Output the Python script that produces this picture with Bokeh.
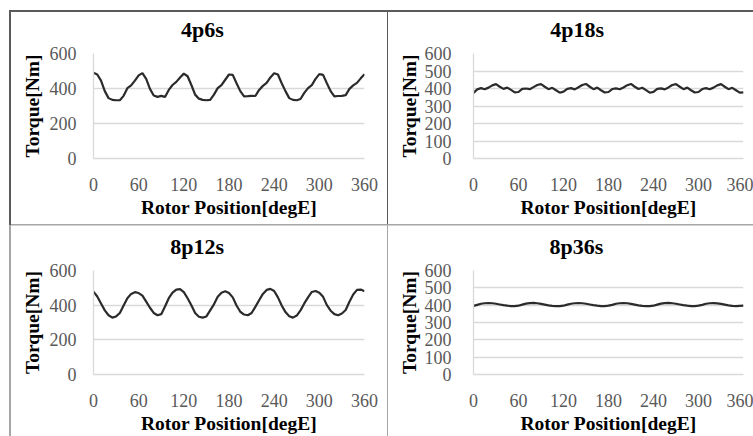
from bokeh.plotting import figure
from bokeh.layouts import gridplot
from bokeh.models import Range1d, FixedTicker
from bokeh.embed import file_html
from bokeh.resources import INLINE

# ---------------- data ----------------
angle = list(range(0, 361, 5))  # Rotor position [degE]

torque_4p6s = [
    490, 480, 445, 385, 345, 335, 333, 333, 358, 402, 418, 445,
    475, 488, 455, 398, 360, 352, 358, 352, 392, 420, 438, 463,
    485, 470, 420, 365, 342, 335, 333, 335, 365, 402, 419, 450,
    480, 478, 430, 385, 355, 356, 358, 357, 392, 415, 432, 463,
    487, 480, 430, 385, 345, 335, 333, 340, 375, 402, 419, 455,
    482, 478, 430, 385, 355, 357, 358, 362, 398, 418, 432, 458,
    482,
]

torque_4p18s = [
    375, 395, 402, 396, 405, 418, 425, 410, 398, 405, 392, 378,
    380, 398, 400, 396, 408, 420, 425, 410, 396, 404, 390, 376,
    382, 398, 402, 395, 407, 420, 426, 410, 396, 405, 390, 377,
    380, 397, 401, 396, 406, 419, 426, 410, 397, 404, 391, 376,
    381, 398, 401, 395, 406, 420, 425, 410, 396, 405, 390, 377,
    380, 397, 402, 396, 405, 418, 425, 410, 396, 404, 390, 376,
    378,
]

torque_8p12s = [
    478, 450, 410, 370, 342, 328, 335, 355, 398, 440, 465, 475,
    470, 455, 420, 385, 355, 342, 348, 392, 440, 472, 490, 492,
    475, 440, 400, 355, 333, 328, 335, 370, 405, 448, 472, 480,
    470, 445, 398, 362, 346, 342, 355, 390, 428, 465, 488, 494,
    482, 445, 398, 360, 336, 328, 340, 370, 410, 445, 476, 482,
    472, 448, 400, 368, 348, 342, 352, 372, 420, 462, 488, 490,
    480,
]

torque_8p36s = [
    396, 402, 408, 411, 412, 411, 408, 404, 400, 397, 395, 395,
    397, 403, 409, 412, 413, 411, 407, 403, 399, 396, 394, 395,
    397, 403, 408, 411, 412, 411, 408, 404, 400, 397, 395, 395,
    397, 402, 408, 411, 412, 411, 407, 403, 399, 396, 394, 395,
    397, 403, 409, 412, 413, 411, 408, 404, 400, 397, 395, 395,
    397, 402, 408, 411, 412, 410, 407, 403, 399, 396, 395, 396,
    397,
]

x_ticks = [0, 60, 120, 180, 240, 300, 360]
y_ticks_coarse = [0, 200, 400, 600]
y_ticks_fine = [0, 100, 200, 300, 400, 500, 600]

titles = ["4p6s", "4p18s", "8p12s", "8p36s"]
x_title = "Rotor Position[degE]"
y_title = "Torque[Nm]"

# ---------------- styling ----------------
FONT = "Liberation Serif"
TICK_COLOR = "#595959"
GRID_COLOR = "#d9d9d9"
LINE_COLOR = "#2b2b2b"
DARK_BORDER = "#5a5a5a"
LIGHT_BORDER = "#a6a6a6"

FRAME_H = 105


def cell_lines(specs):
    """specs: list of (color, pos_x, pos_y, size_w, size_h) as CSS strings."""
    return {
        "background-image": ", ".join(f"linear-gradient({c}, {c})" for c, *_ in specs),
        "background-repeat": "no-repeat",
        "background-position": ", ".join(f"{x} {y}" for _, x, y, _w, _h in specs),
        "background-size": ", ".join(f"{w} {h}" for *_, w, h in specs),
    }


def make_panel(title, ys, yticks, width, height, b_left, b_top, b_right,
               ytick_standoff, ylabel_standoff, title_offset, borders):
    b_bottom = height - b_top - FRAME_H
    p = figure(width=width, height=height, output_backend="svg",
               toolbar_location=None, tools="",
               x_range=Range1d(0, 360), y_range=Range1d(0, 600),
               min_border_left=b_left, min_border_right=b_right,
               min_border_top=b_top, min_border_bottom=b_bottom,
               styles=cell_lines(borders))
    p.outline_line_color = None
    p.background_fill_color = "white"
    p.border_fill_color = None

    p.line(angle, ys, line_color=LINE_COLOR, line_width=2.2)

    p.xgrid.grid_line_color = None
    p.ygrid.grid_line_color = GRID_COLOR
    p.ygrid.grid_line_width = 1.3

    p.xaxis.ticker = FixedTicker(ticks=x_ticks)
    p.yaxis.ticker = FixedTicker(ticks=yticks)
    for ax in (p.xaxis[0], p.yaxis[0]):
        ax.major_tick_line_color = None
        ax.minor_tick_line_color = None
        ax.axis_line_color = GRID_COLOR
        ax.axis_line_width = 1.3
        ax.major_label_text_font = FONT
        ax.major_label_text_font_size = "18px"
        ax.major_label_text_color = TICK_COLOR
        ax.axis_label_text_font = FONT
        ax.axis_label_text_font_style = "bold"
        ax.axis_label_text_font_size = "19.5px"
        ax.axis_label_text_color = "black"
    p.xaxis.axis_label = x_title
    p.yaxis.axis_label = y_title
    p.xaxis.major_label_standoff = 13
    p.xaxis.axis_label_standoff = 3
    p.yaxis.major_label_standoff = ytick_standoff
    p.yaxis.axis_label_standoff = ylabel_standoff

    p.title.text = title
    p.title.align = "left"
    p.title.offset = title_offset
    p.title.standoff = 23
    p.title.text_font = FONT
    p.title.text_font_style = "bold"
    p.title.text_font_size = "22px"
    p.title.text_color = "black"
    return p


W1, W2 = 388, 365
H1, H2 = 220, 216

tl_borders = [
    (DARK_BORDER, "9px", "10px", "2px", "calc(100% - 10px)"),
    (DARK_BORDER, "9px", "10px", "calc(100% - 9px)", "2px"),
    (DARK_BORDER, "100%", "10px", "1.5px", "calc(100% - 10px)"),
]
tr_borders = [
    (DARK_BORDER, "0px", "10px", "100%", "2px"),
]
bl_borders = [
    (DARK_BORDER, "9px", "0px", "2px", "5px"),
    (LIGHT_BORDER, "9px", "5px", "2px", "calc(100% - 5px)"),
    (LIGHT_BORDER, "9px", "4px", "calc(100% - 9px)", "1.5px"),
    (DARK_BORDER, "100%", "0px", "1.5px", "5px"),
    (LIGHT_BORDER, "100%", "5px", "1.5px", "calc(100% - 5px)"),
]
br_borders = [
    (LIGHT_BORDER, "0px", "4px", "100%", "1.5px"),
]

p1 = make_panel(titles[0], torque_4p6s, y_ticks_coarse, W1, H1, 93, 53, 24, 11, 4, 87.5, tl_borders)
p2 = make_panel(titles[1], torque_4p18s, y_ticks_fine, W2, H1, 85, 53, 10, 16, 2, 76.8, tr_borders)
p3 = make_panel(titles[2], torque_8p12s, y_ticks_coarse, W1, H2, 93, 49, 24, 11, 4, 76.7, bl_borders)
p4 = make_panel(titles[3], torque_8p36s, y_ticks_fine, W2, H2, 85, 49, 10, 16, 2, 76.0, br_borders)

grid = gridplot([[p1, p2], [p3, p4]], toolbar_location=None)

open("out.html", "w").write(file_html(grid, INLINE))
